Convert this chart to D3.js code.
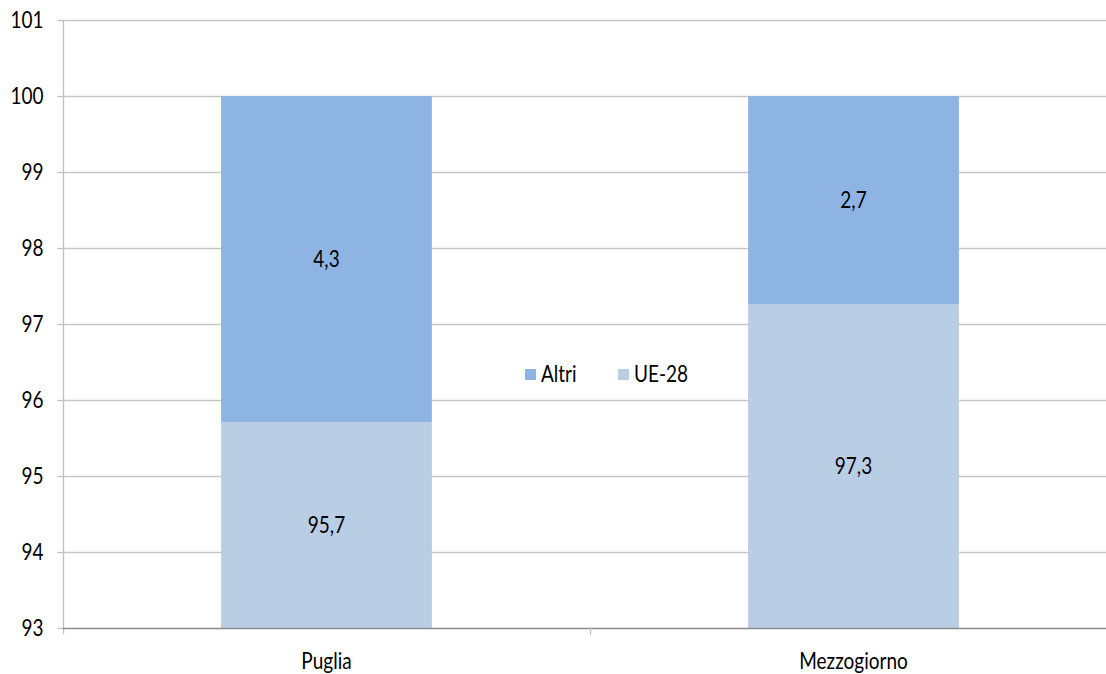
<!DOCTYPE html>
<html><head><meta charset="utf-8">
<script src="https://cdn.jsdelivr.net/npm/d3@7"></script>
<style>
html,body{margin:0;padding:0;background:#fff;}
svg{display:block;}
svg text{font-family:Lato,sans-serif;}
</style></head>
<body>
<svg id="c" width="1106" height="674"></svg>
<script>
const categories = ["Puglia", "Mezzogiorno"];
const ue28 = [95.71, 97.26];
const altri = [4.29, 2.74];
const seriesNames = ["Altri", "UE-28"];
const yTicks = [93, 94, 95, 96, 97, 98, 99, 100, 101];
const colors = {"Altri": "#8EB4E3", "UE-28": "#B9CDE5"};

const svg = d3.select("#c");
const x = d3.scaleBand().domain(categories).range([63, 1117]).padding(0);
const y = d3.scaleLinear().domain([93, 101]).range([628, 20]);
const fs = 19;
const sy = 1.18;

// gridlines
svg.append("g").selectAll("line").data(yTicks.slice(1)).join("line")
  .attr("x1", 63).attr("x2", 1117)
  .attr("y1", d => Math.round(y(d)) + 0.5).attr("y2", d => Math.round(y(d)) + 0.5)
  .attr("stroke", "#c6c6c6").attr("stroke-width", 1.3);

// bars
const barW = x.bandwidth() * 0.4;
const data = categories.map((c, i) => ({c, ue: ue28[i], al: altri[i]}));
const g = svg.append("g");
const fmt = v => d3.format(".1f")(v).replace(".", ",");
function label(px, py, t) {
  g.append("text").attr("transform", `translate(${px},${py}) scale(1,${sy})`).attr("dy", "0.36em")
    .attr("text-anchor", "middle").attr("font-size", fs).attr("fill", "#000").text(t);
}
data.forEach(d => {
  const bx = x(d.c) + (x.bandwidth() - barW) / 2;
  g.append("rect").attr("x", bx).attr("width", barW)
    .attr("y", y(d.ue)).attr("height", y(93) - y(d.ue)).attr("fill", colors["UE-28"]);
  g.append("rect").attr("x", bx).attr("width", barW)
    .attr("y", y(d.ue + d.al)).attr("height", y(d.ue) - y(d.ue + d.al)).attr("fill", colors["Altri"]);
  const cx = x(d.c) + x.bandwidth() / 2;
  label(cx, y((93 + d.ue) / 2), fmt(d.ue));
  label(cx, y((d.ue + d.ue + d.al) / 2), fmt(d.al));
});

// y axis
const yAxis = d3.axisLeft(y).tickValues(yTicks).tickSize(6).tickPadding(14).tickFormat(d3.format("d"));
const ya = svg.append("g").attr("transform", "translate(63.5,0)").call(yAxis);
ya.select(".domain").attr("stroke", "#bfbfbf").attr("stroke-width", 1.3).attr("d", "M0,20V634");
ya.selectAll(".tick line").attr("stroke", "#bfbfbf").attr("stroke-width", 1.3);
ya.selectAll("text").attr("font-size", fs).attr("fill", "#000").attr("font-family", null)
  .attr("transform", `scale(1,${sy})`).attr("dy", "0.34em");

// x axis
const xa = svg.append("g").attr("transform", "translate(0,628.5)")
  .call(d3.axisBottom(x).tickSize(0).tickPadding(21));
xa.select(".domain").attr("stroke", "#8c8c8c").attr("stroke-width", 1.5).attr("d", "M63,0H1117");
xa.selectAll("text").attr("font-size", fs).attr("fill", "#000").attr("font-family", null)
  .attr("transform", `scale(1,${sy})`);
svg.append("line").attr("x1", x("Mezzogiorno") + 0.5).attr("x2", x("Mezzogiorno") + 0.5)
  .attr("y1", 628).attr("y2", 635).attr("stroke", "#bfbfbf").attr("stroke-width", 1.3);

// legend
const leg = svg.append("g").attr("transform", "translate(525,374)");
const legItems = [{n: "Altri", x: 0}, {n: "UE-28", x: 93}];
legItems.forEach(it => {
  leg.append("rect").attr("x", it.x).attr("y", -5).attr("width", 11).attr("height", 11).attr("fill", colors[it.n]);
  leg.append("text").attr("transform", `translate(${it.x + 16},0) scale(1,${sy})`).attr("dy", "0.36em")
    .attr("font-size", fs).attr("fill", "#000").text(it.n);
});
</script>
</body></html>
